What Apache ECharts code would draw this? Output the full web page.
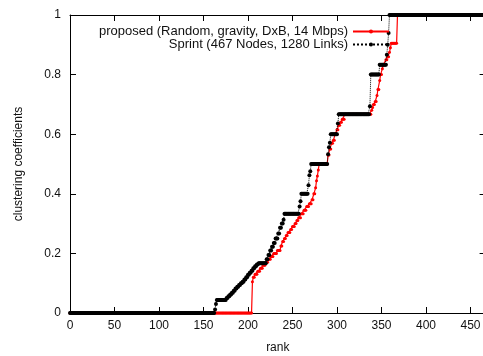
<!DOCTYPE html>
<html>
<head>
<meta charset="utf-8">
<script src="https://cdn.jsdelivr.net/npm/echarts@6/dist/echarts.min.js"></script>
<style>
  html, body { margin: 0; padding: 0; background: #fff; }
  #chart { width: 483px; height: 356px; }
</style>
</head>
<body>
<div id="chart"></div>
<script>
// Sorted clustering coefficients per node, stored as runs of equal value:
// each value is repeated for the given count of consecutive ranks.
const seriesNames = [
  'proposed (Random, gravity, DxB, 14 Mbps)',
  'Sprint (467 Nodes, 1280 Links)'
];

const proposedValues = [
  0, 0.105, 0.12, 0.13, 0.14, 0.15, 0.16, 0.17, 0.18, 0.19,
  0.2, 0.21, 0.225, 0.24, 0.25, 0.26, 0.27, 0.28, 0.29, 0.3,
  0.31, 0.32, 0.333, 0.345, 0.357, 0.367, 0.38, 0.4, 0.42, 0.444,
  0.46, 0.48, 0.5, 0.53, 0.55, 0.57, 0.58, 0.6, 0.615, 0.63,
  0.64, 0.65, 0.667, 0.68, 0.69, 0.7, 0.71, 0.73, 0.75, 0.78,
  0.8, 0.82, 0.833, 0.85, 0.86, 0.875, 0.89, 0.905, 1
];
const proposedCounts = [
  205, 1, 2, 3, 3, 3, 3, 3, 3, 3,
  4, 4, 2, 2, 2, 2, 3, 2, 3, 2,
  2, 3, 3, 3, 3, 3, 2, 2, 1, 1,
  1, 1, 10, 2, 2, 2, 2, 2, 2, 2,
  2, 3, 30, 1, 1, 2, 2, 1, 2, 1,
  2, 1, 3, 2, 2, 1, 1, 7, 99
];

const sprintValues = [
  0, 0.012, 0.03, 0.044, 0.05, 0.056, 0.062, 0.068, 0.075, 0.082,
  0.088, 0.094, 0.1, 0.105, 0.112, 0.12, 0.128, 0.135, 0.142, 0.15,
  0.157, 0.163, 0.167, 0.18, 0.195, 0.21, 0.222, 0.235, 0.25, 0.267,
  0.286, 0.3, 0.313, 0.333, 0.357, 0.375, 0.4, 0.429, 0.462, 0.476,
  0.5, 0.533, 0.556, 0.571, 0.6, 0.636, 0.667, 0.694, 0.8, 0.833,
  0.867, 0.9, 0.94, 1
];
const sprintCounts = [
  163, 1, 1, 11, 2, 2, 2, 2, 2, 2,
  2, 2, 2, 2, 2, 2, 2, 2, 2, 2,
  2, 2, 9, 2, 2, 2, 2, 2, 3, 2,
  2, 2, 1, 17, 1, 1, 8, 1, 1, 1,
  19, 1, 1, 1, 8, 1, 35, 1, 10, 8,
  1, 1, 1, 108
];

const xTicks = [0, 50, 100, 150, 200, 250, 300, 350, 400, 450];
const yTicks = [0, 0.2, 0.4, 0.6, 0.8, 1];

// Expand value runs into [rank, value] points, rank counted from 0.
function expandRuns(values, counts) {
  const points = [];
  let rank = 0;
  values.forEach(function (v, i) {
    for (let k = 0; k < counts[i]; k++) {
      points.push([rank, v]);
      rank++;
    }
  });
  return points;
}

const FONT = "'Liberation Sans', Arial, Helvetica, sans-serif";
const chart = echarts.init(document.getElementById('chart'), null, { renderer: 'canvas' });

const frameAxisLine = { show: true, onZero: false, lineStyle: { color: '#000', width: 1 } };
const innerTick = { show: true, inside: true, length: 6, lineStyle: { color: '#000', width: 1 } };

chart.setOption({
  animation: false,
  backgroundColor: '#fff',
  textStyle: { fontFamily: FONT },
  grid: {
    left: 70, top: 15, width: 415.6, height: 298,
    containLabel: false, outerBoundsMode: 'none'
  },
  legend: {
    data: seriesNames,
    orient: 'vertical',
    align: 'right',
    right: 88,
    top: 20,
    itemWidth: 36,
    itemHeight: 5,
    itemGap: 0,
    textStyle: { fontFamily: FONT, fontSize: 13, color: '#111', lineHeight: 13 }
  },
  xAxis: [{
    type: 'value',
    min: 0,
    max: 467,
    interval: 50,
    name: 'rank',
    nameLocation: 'middle',
    nameGap: 29,
    nameTextStyle: { fontFamily: FONT, fontSize: 12, color: '#111' },
    axisLine: frameAxisLine,
    axisTick: innerTick,
    splitLine: { show: false },
    axisLabel: {
      fontFamily: FONT, fontSize: 12, color: '#111', margin: 7,
      formatter: function (v) { return xTicks.indexOf(v) >= 0 ? String(v) : ''; }
    }
  }, {
    type: 'value',
    position: 'top',
    min: 0,
    max: 467,
    interval: 50,
    axisLine: frameAxisLine,
    axisTick: innerTick,
    splitLine: { show: false },
    axisLabel: { show: false }
  }],
  yAxis: [{
    type: 'value',
    min: 0,
    max: 1,
    interval: 0.2,
    name: 'clustering coefficients',
    nameLocation: 'middle',
    nameGap: 45,
    nameTextStyle: { fontFamily: FONT, fontSize: 12, color: '#111' },
    axisLine: frameAxisLine,
    axisTick: innerTick,
    splitLine: { show: false },
    axisLabel: {
      fontFamily: FONT, fontSize: 12, color: '#111', margin: 9,
      formatter: function (v) {
        const hit = yTicks.find(function (t) { return Math.abs(t - v) < 1e-9; });
        return hit === undefined ? '' : String(hit);
      }
    }
  }, {
    type: 'value',
    position: 'right',
    min: 0,
    max: 1,
    interval: 0.2,
    axisLine: frameAxisLine,
    axisTick: innerTick,
    splitLine: { show: false },
    axisLabel: { show: false }
  }],
  series: [{
    name: seriesNames[0],
    type: 'line',
    data: expandRuns(proposedValues, proposedCounts),
    clip: false,
    showSymbol: true,
    showAllSymbol: true,
    symbol: 'circle',
    symbolSize: 3,
    itemStyle: { color: '#ff0000' },
    lineStyle: { color: '#ff0000', width: 1.2 },
    emphasis: { disabled: true },
    z: 2
  }, {
    name: seriesNames[1],
    type: 'line',
    data: expandRuns(sprintValues, sprintCounts),
    clip: false,
    showSymbol: true,
    showAllSymbol: true,
    symbol: 'circle',
    symbolSize: 4,
    itemStyle: { color: '#000' },
    lineStyle: { color: '#000', width: 1, type: 'dotted' },
    emphasis: { disabled: true },
    z: 3
  }]
});
</script>
</body>
</html>
